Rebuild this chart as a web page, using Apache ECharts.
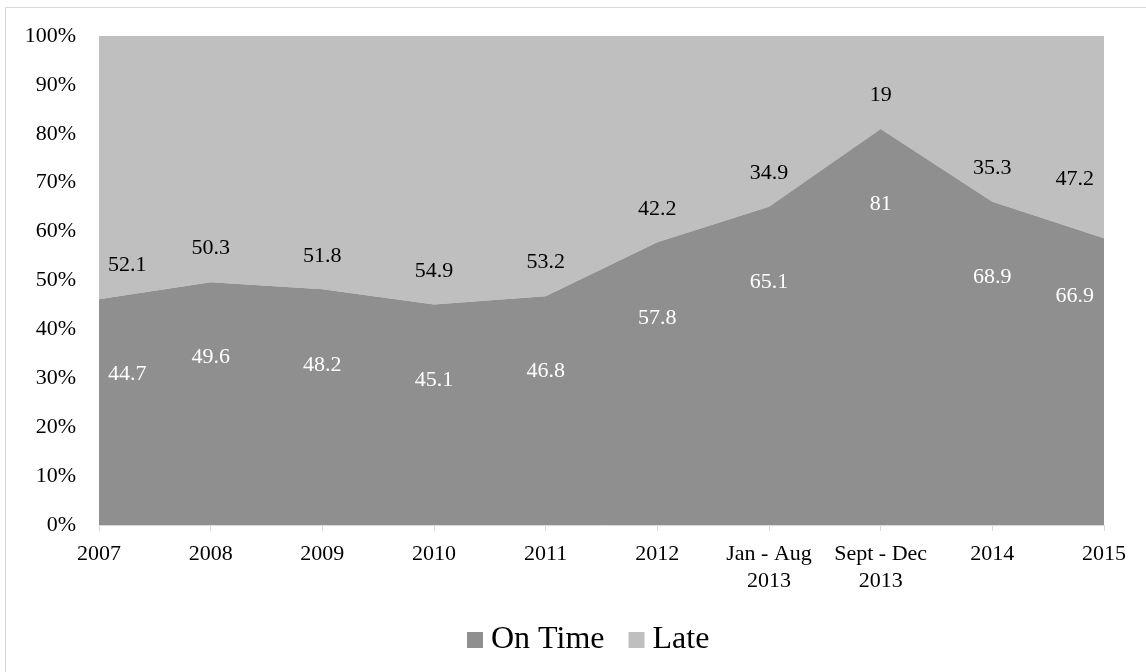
<!DOCTYPE html>
<html>
<head>
<meta charset="utf-8">
<script src="https://cdn.jsdelivr.net/npm/echarts@6/dist/echarts.min.js"></script>
<style>
  html, body { margin: 0; padding: 0; background: #fff; }
  #frame { position: absolute; left: 5px; top: 7px; width: 1150px; height: 680px; border: 1px solid #d9d9d9; box-sizing: border-box; }
  #chart { width: 1146px; height: 672px; position: absolute; left: 0; top: 0; }
</style>
</head>
<body>
<div id="frame"></div>
<div id="chart"></div>
<script>
// Periods shown along the x axis
const categories = ['2007', '2008', '2009', '2010', '2011', '2012', 'Jan - Aug\n2013', 'Sept - Dec\n2013', '2014', '2015'];
// Reported values per period
const onTime = [44.7, 49.6, 48.2, 45.1, 46.8, 57.8, 65.1, 81, 68.9, 66.9];
const late = [52.1, 50.3, 51.8, 54.9, 53.2, 42.2, 34.9, 19, 35.3, 47.2];
// Y axis tick values (percent)
const yTicks = [0, 10, 20, 30, 40, 50, 60, 70, 80, 90, 100];

// 100% stacking: each period's share of its total
const onTimePct = onTime.map((v, i) => v / (v + late[i]) * 100);
const latePct = late.map((v, i) => v / (onTime[i] + v) * 100);

const FONT = '"Liberation Serif", "Times New Roman", serif';
const ON_TIME_COLOR = '#8f8f8f';
const LATE_COLOR = '#bfbfbf';

// labels at the first and last points are pulled inside the plot
const withEdgeLabels = (arr, lastDy) => arr.map((v, i) => {
  if (i === 0) return { value: v, label: { align: 'left', offset: [9, 0] } };
  if (i === arr.length - 1) return { value: v, label: { align: 'right', offset: [-10, lastDy] } };
  return v;
});

const chart = echarts.init(document.getElementById('chart'), null, { renderer: 'canvas' });
chart.setOption({
  animation: false,
  grid: { left: 99, right: 42, top: 36, bottom: 147 },
  legend: {
    data: [
      { name: 'On Time', itemStyle: { color: ON_TIME_COLOR, opacity: 1 } },
      { name: 'Late', itemStyle: { color: LATE_COLOR, opacity: 1 } }
    ],
    top: 619,
    left: 462,
    icon: 'rect',
    itemWidth: 16,
    itemHeight: 16,
    itemGap: 24,
    textStyle: { fontFamily: FONT, fontSize: 32, color: '#000', padding: [0, 0, 0, 3] }
  },
  xAxis: {
    type: 'category',
    data: categories,
    boundaryGap: false,
    axisLine: { show: true, lineStyle: { color: '#d9d9d9', width: 1 } },
    axisTick: { show: true, length: 6, lineStyle: { color: '#d9d9d9' } },
    axisLabel: { fontFamily: FONT, fontSize: 22, color: '#000', margin: 16, lineHeight: 27, interval: 0 },
    splitLine: { show: false }
  },
  yAxis: {
    type: 'value',
    min: yTicks[0],
    max: yTicks[yTicks.length - 1],
    interval: yTicks[1] - yTicks[0],
    axisLine: { show: false },
    axisTick: { show: false },
    splitLine: { show: false },
    axisLabel: { fontFamily: FONT, fontSize: 22, color: '#000', margin: 23, formatter: v => v + '%' }
  },
  series: [
    {
      name: 'On Time',
      type: 'line',
      stack: 'share',
      data: withEdgeLabels(onTimePct, -18),
      clip: false,
      symbol: 'circle',
      symbolSize: 1,
      showSymbol: true,
      lineStyle: { width: 0, color: ON_TIME_COLOR },
      itemStyle: { color: 'rgba(0,0,0,0)' },
      areaStyle: { color: ON_TIME_COLOR, opacity: 1 },
      label: {
        show: true,
        position: 'bottom',
        distance: 64,
        fontFamily: FONT,
        fontSize: 22,
        color: '#fff',
        formatter: p => String(onTime[p.dataIndex])
      },
      z: 3
    },
    {
      name: 'Late',
      type: 'line',
      stack: 'share',
      data: latePct,
      symbol: 'none',
      lineStyle: { width: 0, color: LATE_COLOR },
      itemStyle: { color: LATE_COLOR },
      areaStyle: { color: LATE_COLOR, opacity: 1 },
      z: 2
    },
    {
      // carries the Late labels just above the On Time boundary
      name: 'LateLabels',
      type: 'line',
      data: withEdgeLabels(onTimePct, -26),
      clip: false,
      symbol: 'circle',
      symbolSize: 1,
      showSymbol: true,
      lineStyle: { width: 0, color: 'rgba(0,0,0,0)' },
      itemStyle: { color: 'rgba(0,0,0,0)' },
      silent: true,
      label: {
        show: true,
        position: 'top',
        distance: 22,
        fontFamily: FONT,
        fontSize: 22,
        color: '#000',
        formatter: p => String(late[p.dataIndex])
      },
      z: 4
    }
  ]
});
</script>
</body>
</html>
